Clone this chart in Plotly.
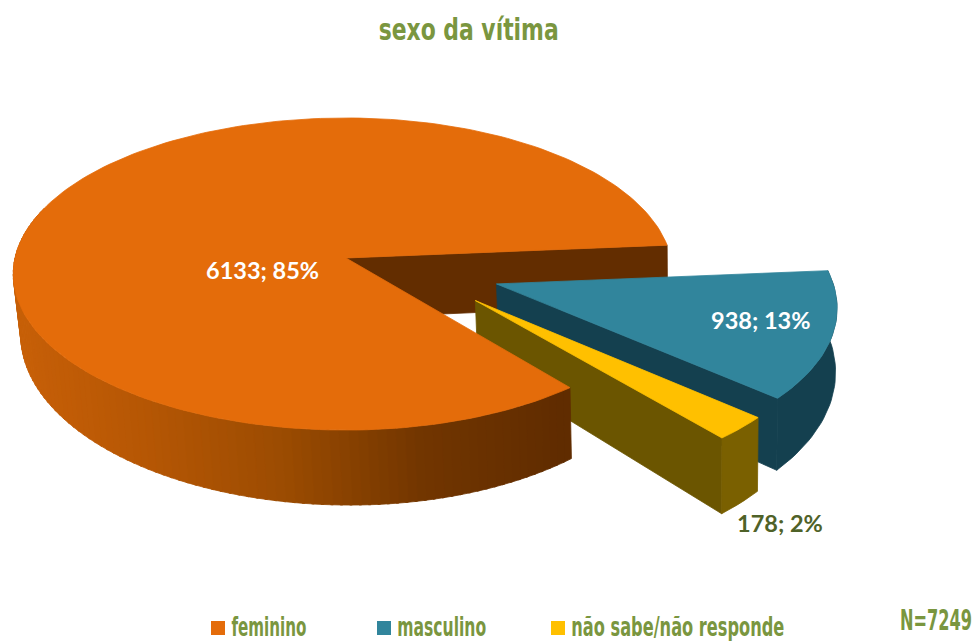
import json
import numpy as np
import plotly.graph_objects as go

# ---- data ----
categories = ["feminino", "masculino", "não sabe/não responde"]
values = [6133, 938, 178]
percent_labels = ["85%", "13%", "2%"]
total_label = "N=7249"
title_text = "sexo da vítima"

# ---- style ----
top_colors = ["#E46C0A", "#31859C", "#FFC000"]
wall_colors = ["#632D00", "#14404F", "#6B5500"]
GREEN = "#7A963F"
NARROW = "DejaVu Sans Condensed, DejaVu Sans, sans-serif"
LABEL = "Lato, sans-serif"

# ---- pseudo-3D projection (disc coords -> pixels) ----
CX, CY, A, B, K, D, K2 = 346, 258, 331, 154.4, 0.1026, 60, 0.2
VANISH_X, VANISH_F = 700, 0.011   # lower face drifts toward this x
START = 355.2  # degrees, screen clockwise; where the first slice starts
PULL = [(0.0, 0.0), (0.447, 0.165), (0.38, 0.268)]
RIGHT_SQUEEZE = 0.982             # the big slice is foreshortened on its right side


def top(u, v):
    u, v = np.asarray(u, float), np.asarray(v, float)
    w = 1 - K * v
    return CX + A * u / w, CY + B * v / w


def bottom(u, v):
    u, v = np.asarray(u, float), np.asarray(v, float)
    w = 1 - K * v
    x = CX + A * u / w
    return x + VANISH_F * (VANISH_X - x), CY + B * v / w + D / (1 - K2 * v)


def arc(a0, a1, pull, n=None):
    n = n or max(3, int(abs(a1 - a0) / 1.5) + 1)
    t = np.radians(np.linspace(a0, a1, n))
    return np.cos(t) + pull[0], np.sin(t) + pull[1]


def squeeze(u):
    u = np.asarray(u, float)
    return np.where(u > 0, u * RIGHT_SQUEEZE, u)


def poly(fig, x, y, color, name=None):
    fig.add_trace(go.Scatter(
        x=list(x) + [x[0]], y=list(y) + [y[0]], mode="lines", fill="toself",
        fillcolor=color, line=dict(color=color, width=0.8),
        hoverinfo="skip", showlegend=False, name=name))


def wall(fig, u, v, color):
    tx, ty = top(u, v)
    bx, by = bottom(u, v)
    poly(fig, np.r_[tx, bx[::-1]], np.r_[ty, by[::-1]], color)


def sector(fig, u, v, pull, color):
    x, y = top(np.r_[pull[0], u], np.r_[pull[1], v])
    poly(fig, x, y, color)


def hex2rgb(h):
    return np.array([int(h[i:i + 2], 16) for i in (1, 3, 5)], float)


SHADE_X = [13, 130, 280, 420, 566]
SHADE_C = ["#C86008", "#B85805", "#9C4C02", "#723600", "#602C00"]
SHADE_RGB = np.array([hex2rgb(c) for c in SHADE_C])


def shade(x):
    return "rgb(%d,%d,%d)" % tuple(np.interp(x, SHADE_X, SHADE_RGB[:, i]) for i in range(3))


sweeps = [v / sum(values) * 360 for v in values]
# slices go clockwise: masculino, não sabe, then feminino round the back
a_blue = (START, START + sweeps[1])
a_yellow = (a_blue[1], a_blue[1] + sweeps[2])
a_orange = (a_yellow[1], a_yellow[1] + sweeps[0])

fig = go.Figure()

# orange cut wall (behind the exploded slices)
u, v = arc(a_orange[1], a_orange[1], PULL[0], 2)
wall(fig, squeeze([0, u[0]]), [0, v[0]], wall_colors[0])

# masculino
u, v = arc(*a_blue, PULL[1])
wall(fig, u, v, wall_colors[1])
u2, v2 = arc(a_blue[1], a_blue[1], PULL[1], 2)
wall(fig, [PULL[1][0], u2[0]], [PULL[1][1], v2[0]], wall_colors[1])
sector(fig, u, v, PULL[1], top_colors[1])

# não sabe
u2, v2 = arc(a_yellow[1], a_yellow[1], PULL[2], 2)
wall(fig, [PULL[2][0], u2[0]], [PULL[2][1], v2[0]], wall_colors[2])
u, v = arc(*a_yellow, PULL[2])
wall(fig, u, v, "#7A6000")
sector(fig, u, v, PULL[2], top_colors[2])

# feminino outer wall, drawn in small shaded strips
edges = np.arange(a_orange[0], 360 + 200, 1.5)
for e0, e1 in zip(edges[:-1], edges[1:]):
    u, v = arc(e0, e1 + 0.4, PULL[0], 3)
    u = squeeze(u)
    tx, _ = top(u, v)
    wall(fig, u, v, shade(tx.mean()))
u, v = arc(*a_orange, PULL[0])
sector(fig, squeeze(u), v, PULL[0], top_colors[0])

# value labels
label_pos = [(262, 270, "white"), (760, 320, "white"), (780, 523, "#4F6228")]
annotations = []
for val, pct, (lx, ly, col) in zip(values, percent_labels, label_pos):
    annotations.append(dict(x=lx, y=ly, text=f"<b>{val}; {pct}</b>", showarrow=False,
                            xanchor="center", yanchor="middle",
                            font=dict(family=LABEL, size=23.5, color=col)))

# legend
legend_x = [211, 377, 551]
legend_w = [75, 89, 213]
fit = {title_text: 180, total_label: 72}
for name, col, lx, w in zip(categories, top_colors, legend_x, legend_w):
    fig.add_trace(go.Scatter(x=[lx + 7], y=[628], mode="markers", name=name,
                             marker=dict(symbol="square", size=14, color=col),
                             hoverinfo="name", showlegend=False))
    annotations.append(dict(x=lx + 20 + w / 2, y=627, text=f"<b>{name}</b>", showarrow=False,
                            xanchor="center", yanchor="middle",
                            font=dict(family=NARROW, size=26, color=GREEN)))
    fit[name] = w

annotations.append(dict(x=936, y=620, width=76, text=f"<b>{total_label}</b>", showarrow=False,
                        xanchor="center", yanchor="middle",
                        font=dict(family=NARROW, size=29, color=GREEN)))
annotations.append(dict(x=468, y=29, text=f"<b>{title_text}</b>", showarrow=False,
                        xanchor="center", yanchor="middle",
                        font=dict(family=NARROW, size=31, color=GREEN)))

fig.update_layout(
    width=976, height=641, margin=dict(l=0, r=0, t=0, b=0),
    paper_bgcolor="white", plot_bgcolor="white", showlegend=False,
    annotations=annotations,
    xaxis=dict(range=[0, 976], visible=False, fixedrange=True),
    yaxis=dict(range=[641, 0], visible=False, fixedrange=True),
)

# The reference's display face is very narrow: squeeze the live text to its widths.
post = """
document.body.style.margin = '0';
var fit = %s;
document.querySelectorAll('.annotation-text').forEach(function (el) {
  var w = fit[el.textContent];
  if (w) { el.setAttribute('textLength', w); el.setAttribute('lengthAdjust', 'spacingAndGlyphs'); }
});
""" % json.dumps(fit, ensure_ascii=False)
fig.write_html("out.html", post_script=post, config=dict(displayModeBar=False))
